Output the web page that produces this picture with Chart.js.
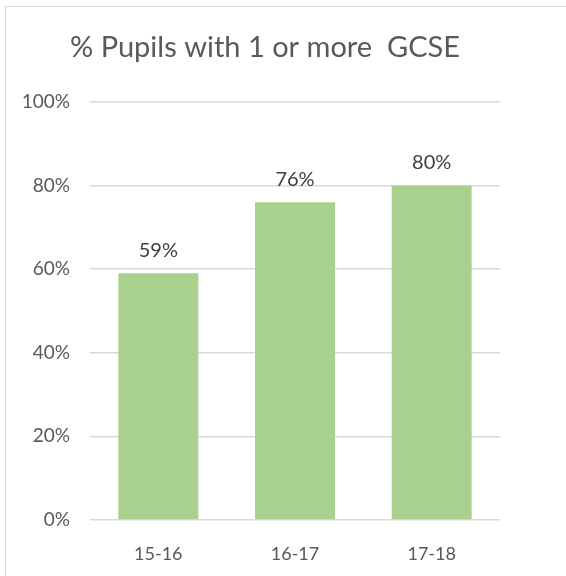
<!DOCTYPE html>
<html>
<head>
<meta charset="utf-8">
<script src="https://cdn.jsdelivr.net/npm/chart.js@4"></script>
<style>
  html, body { margin: 0; padding: 0; background: #fff; overflow: hidden; }
  body { width: 566px; height: 576px; position: relative; }
  #frame { position: absolute; left: 5px; top: 6px; width: 620px; height: 620px; border: 1px solid #d9d9d9; }
  #wrap { position: absolute; left: -36px; top: 0; width: 602px; height: 576px; }
</style>
</head>
<body>
<div id="frame"></div>
<div id="wrap"><canvas id="gcseChart"></canvas></div>
<script>
const years = ['15-16', '16-17', '17-18'];
const pupilsPct = [59, 76, 80];
const yTicks = [0, 20, 40, 60, 80, 100];

// labels over each bar
const valueLabels = {
    id: 'valueLabels',
    afterDatasetsDraw(chart) {
        const ctx = chart.ctx;
        const meta = chart.getDatasetMeta(0);
        ctx.save();
        ctx.font = '20px Lato';
        ctx.fillStyle = '#404040';
        ctx.textAlign = 'center';
        ctx.textBaseline = 'middle';
        meta.data.forEach((bar, i) => {
            ctx.fillText(pupilsPct[i] + '%', bar.x, bar.y - 23);
        });
        ctx.restore();
    }
};

const ctx = document.getElementById('gcseChart').getContext('2d');

new Chart(ctx, {
    type: 'bar',
    data: {
        labels: years,
        datasets: [{
            data: pupilsPct,
            backgroundColor: '#a9d18e',
            borderWidth: 0,
            categoryPercentage: 1,
            barPercentage: 0.585
        }]
    },
    options: {
        responsive: true,
        maintainAspectRatio: false,
        animation: false,
        layout: { padding: 0 },
        plugins: {
            legend: { display: false },
            tooltip: { enabled: false },
            title: {
                display: true,
                text: '% Pupils with 1 or more  GCSE',
                color: '#595959',
                font: { family: 'Lato', size: 29, weight: 'normal' },
                padding: { top: 30, bottom: 37 }
            }
        },
        scales: {
            x: {
                grid: { display: false, drawTicks: false },
                border: { display: false },
                ticks: { color: '#595959', font: { family: 'Lato', size: 18 }, padding: 23 },
                afterFit: (s) => { s.height = 56; }
            },
            y: {
                min: 0,
                max: 100,
                afterBuildTicks: (s) => { s.ticks = yTicks.map(v => ({ value: v })); },
                grid: { color: '#d9d9d9', lineWidth: 1.5, drawTicks: false },
                border: { display: false },
                ticks: {
                    color: '#595959',
                    font: { family: 'Lato', size: 19 },
                    padding: 20,
                    callback: (v) => v + '%'
                },
                afterFit: (s) => { s.width = 126; }
            },
            // empty right axis, only keeps the plot clear of the right edge
            yRight: {
                type: 'linear',
                position: 'right',
                grid: { display: false },
                border: { display: false },
                ticks: { display: false },
                afterFit: (s) => { s.width = 66; }
            }
        }
    },
    plugins: [valueLabels]
});
</script>
</body>
</html>
